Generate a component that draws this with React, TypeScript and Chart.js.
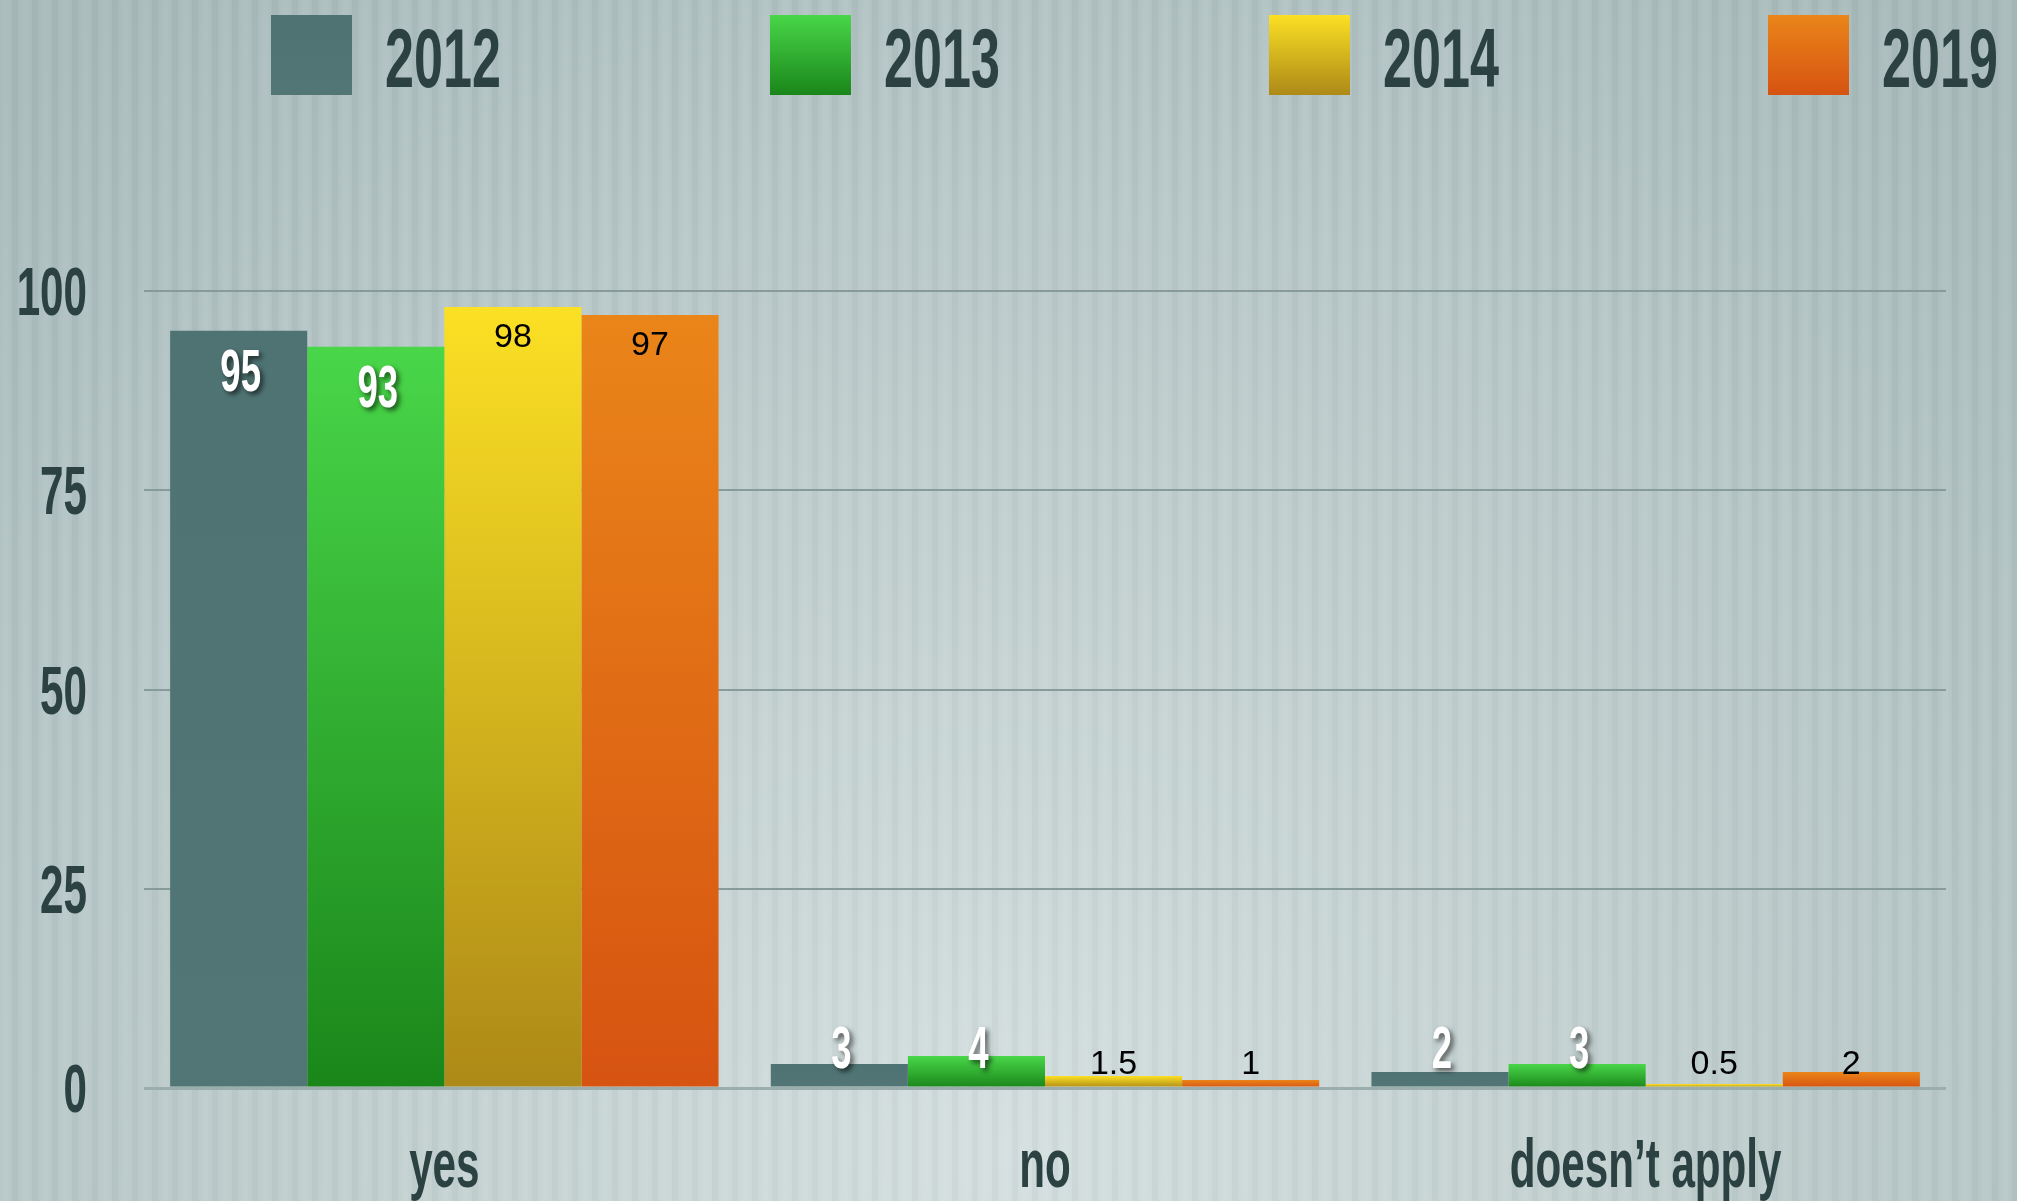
import React, { useEffect, useRef } from "react";
import { Chart, registerables } from "chart.js";

Chart.register(...registerables);

// ---- data ----
const categories = ["yes", "no", "doesn’t apply"];
const seriesLabels = ["2012", "2013", "2014", "2019"];
const values2012 = [95, 3, 2];
const values2013 = [93, 4, 3];
const values2014 = [98, 1.5, 0.5];
const values2019 = [97, 1, 2];
const valueLabels2012 = ["95", "3", "2"];
const valueLabels2013 = ["93", "4", "3"];
const valueLabels2014 = ["98", "1.5", "0.5"];
const valueLabels2019 = ["97", "1", "2"];
const yTickValues = [0, 25, 50, 75, 100];
const yTickLabels = ["0", "25", "50", "75", "100"];

// ---- styles ----
const topColors = ["#4f7373", "#49d649", "#fbe024", "#ea8519"];
const bottomColors = ["#527676", "#1a861a", "#ad8917", "#d65311"];
const labelWhite = [true, true, false, false];
const TEXT_DARK = "#2c4242";
const W = 2017;
const H = 1201;

function hasFont(name: string): boolean {
  const c = document.createElement("canvas").getContext("2d");
  if (!c) return false;
  c.font = "100px monospace";
  const a = c.measureText("2012 doesn’t apply").width;
  c.font = `100px "${name}", monospace`;
  const b = c.measureText("2012 doesn’t apply").width;
  return Math.abs(a - b) > 1;
}

export default function App() {
  const ref = useRef<HTMLCanvasElement | null>(null);

  useEffect(() => {
    document.body.style.margin = "0";
    document.body.style.overflow = "hidden";
    const canvas = ref.current;
    if (!canvas) return;

    const narrow = hasFont("Liberation Sans Narrow");
    const condFamily = narrow ? '"Liberation Sans Narrow", "Liberation Sans", sans-serif' : '"Liberation Sans", sans-serif';
    const cf = narrow ? 0.76 : 0.62;
    const plainFamily = '"Liberation Sans", Arial, sans-serif';

    const seriesValues = [values2012, values2013, values2014, values2019];
    const seriesValueLabels = [valueLabels2012, valueLabels2013, valueLabels2014, valueLabels2019];

    const gradFor = (chart: any, i: number, top: number, bottom: number) => {
      const g = chart.ctx.createLinearGradient(0, top, 0, bottom);
      g.addColorStop(0, topColors[i]);
      g.addColorStop(1, bottomColors[i]);
      return g;
    };

    const condText = (ctx: CanvasRenderingContext2D, text: string, x: number, y: number, size: number, align: CanvasTextAlign) => {
      ctx.save();
      ctx.font = `bold ${size}px ${condFamily}`;
      ctx.textAlign = align;
      ctx.textBaseline = "alphabetic";
      ctx.translate(x, y);
      ctx.scale(cf, 1);
      ctx.fillText(text, 0, 0);
      ctx.restore();
    };

    const backgroundPlugin = {
      id: "bgStripes",
      beforeDraw(chart: any) {
        const ctx = chart.ctx as CanvasRenderingContext2D;
        ctx.save();
        const g = ctx.createRadialGradient(1000, 1150, 0, 1000, 1150, 1450);
        g.addColorStop(0, "#d4dfdf");
        g.addColorStop(0.5, "#bfcdcd");
        g.addColorStop(1, "#a8baba");
        ctx.fillStyle = g;
        ctx.fillRect(0, 0, W, H);
        for (let x = 0; x < W; x += 20) {
          ctx.fillStyle = "rgba(255,255,255,0.035)";
          ctx.fillRect(x, 0, 3, H);
          ctx.fillRect(x + 8, 0, 3, H);
          ctx.fillStyle = "rgba(255,255,255,0.07)";
          ctx.fillRect(x + 3, 0, 5, H);
          ctx.fillStyle = "rgba(0,0,0,0.025)";
          ctx.fillRect(x + 12, 0, 6, H);
        }
        ctx.restore();
      },
    };

    // axis tick labels, drawn condensed at the positions the chart's own scales give
    const axisLabelPlugin = {
      id: "axisLabels",
      afterDraw(chart: any) {
        const ctx = chart.ctx as CanvasRenderingContext2D;
        const ys = chart.scales.y;
        const xs = chart.scales.x;
        ctx.save();
        ctx.fillStyle = TEXT_DARK;
        ys.ticks.forEach((t: any, k: number) => {
          const py = ys.getPixelForValue(t.value);
          const idx = yTickValues.indexOf(t.value);
          const label = idx >= 0 ? yTickLabels[idx] : String(t.value);
          condText(ctx, label, ys.right - 57, py + 24, 68, "right");
        });
        categories.forEach((c, i) => {
          const px = xs.getPixelForTick(i);
          condText(ctx, xs.getLabelForValue(i) || c, px, xs.top + 99, 68, "center");
        });
        ctx.restore();
      },
    };

    const legendPlugin = {
      id: "customLegend",
      afterDraw(chart: any) {
        const ctx = chart.ctx as CanvasRenderingContext2D;
        const x0 = 271;
        const step = 499;
        const boxW = 81;
        const boxH = 80;
        const boxY = 15;
        chart.data.datasets.forEach((ds: any, i: number) => {
          const bx = x0 + i * step;
          ctx.save();
          ctx.fillStyle = gradFor(chart, i, boxY, boxY + boxH);
          ctx.fillRect(bx, boxY, boxW, boxH);
          ctx.fillStyle = TEXT_DARK;
          condText(ctx, ds.label, bx + boxW + 33, 87, 84, "left");
          ctx.restore();
        });
      },
    };

    const valueLabelPlugin = {
      id: "valueLabels",
      afterDatasetsDraw(chart: any) {
        const ctx = chart.ctx as CanvasRenderingContext2D;
        chart.data.datasets.forEach((ds: any, i: number) => {
          const meta = chart.getDatasetMeta(i);
          meta.data.forEach((el: any, j: number) => {
            const text = seriesValueLabels[i][j];
            const top = el.y;
            const base = el.base;
            ctx.save();
            if (labelWhite[i]) {
              const cy = Math.min(top + 39, base - 40);
              ctx.fillStyle = "#ffffff";
              ctx.shadowColor = "rgba(0,0,0,0.6)";
              ctx.shadowOffsetX = 3;
              ctx.shadowOffsetY = 3;
              ctx.shadowBlur = 5;
              condText(ctx, text, el.x + 2, cy + 21, 59, "center");
            } else {
              const cy = Math.min(top + 28, base - 25);
              ctx.fillStyle = "#000000";
              ctx.font = `34px ${plainFamily}`;
              ctx.textAlign = "center";
              ctx.textBaseline = "alphabetic";
              ctx.fillText(text, el.x, cy + 12);
            }
            ctx.restore();
          });
        });
      },
    };

    const chart = new Chart(canvas, {
      type: "bar",
      data: {
        labels: categories,
        datasets: seriesLabels.map((label, i) => ({
          label,
          data: seriesValues[i],
          backgroundColor: (c: any) => {
            const ch = c.chart;
            if (!ch.chartArea || c.type !== "data") return topColors[i];
            const ys = ch.scales.y;
            const top = ys.getPixelForValue(c.raw as number);
            const bottom = ys.getPixelForValue(0);
            return gradFor(ch, i, top, Math.max(bottom, top + 1));
          },
          borderWidth: 0,
          categoryPercentage: 0.913,
          barPercentage: 1.0,
        })),
      },
      options: {
        responsive: false,
        animation: false,
        devicePixelRatio: 1,
        layout: { padding: { top: 291, right: 71, bottom: 0, left: 0 } },
        plugins: {
          legend: { display: false },
          tooltip: { enabled: false },
          title: { display: false },
        },
        scales: {
          x: {
            grid: { display: false },
            border: { display: false },
            ticks: { display: false },
            afterFit: (s: any) => {
              s.height = 113;
            },
          },
          y: {
            min: 0,
            max: 100,
            afterBuildTicks: (s: any) => {
              s.ticks = yTickValues.map((v) => ({ value: v }));
            },
            grid: {
              drawTicks: false,
              color: (c: any) => (c.tick && c.tick.value === 0 ? "#9badad" : "#879b9b"),
              lineWidth: (c: any) => (c.tick && c.tick.value === 0 ? 3 : 2),
            },
            border: { display: false },
            ticks: { display: false },
            afterFit: (s: any) => {
              s.width = 144;
            },
          },
        },
      },
      plugins: [backgroundPlugin, valueLabelPlugin, axisLabelPlugin, legendPlugin],
    });

    return () => {
      chart.destroy();
    };
  }, []);

  return (
    <div style={{ width: W, height: H, overflow: "hidden" }}>
      <canvas ref={ref} width={W} height={H} style={{ display: "block", width: W, height: H }} />
    </div>
  );
}
